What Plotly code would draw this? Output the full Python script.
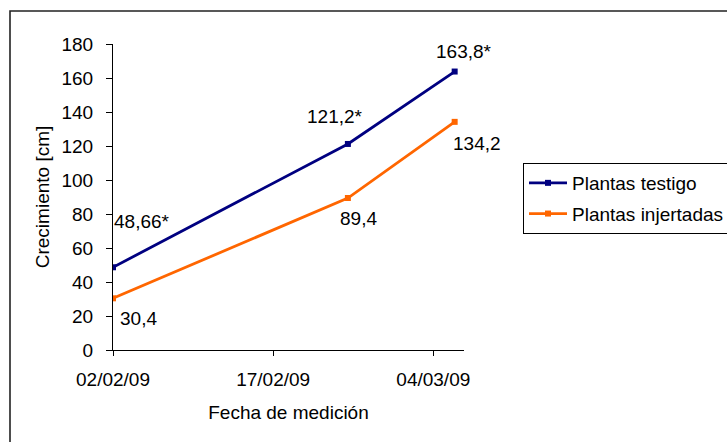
import plotly.graph_objects as go

# Measurement dates and plant growth (cm)
fechas = ["2009-02-02", "2009-02-24", "2009-03-06"]
testigo = [48.66, 121.2, 163.8]
injertadas = [30.4, 89.4, 134.2]
# Significance marks appended to each value label
marca_testigo = ["*", "*", "*"]
marca_injertadas = ["", "", ""]

series = ["Plantas testigo", "Plantas injertadas"]
colores = ["#000080", "#FF6600"]

FONT = "Liberation Sans, Arial, sans-serif"
FS = 19
W, H = 727, 442
L, R, T, B = 113, 263, 44, 92  # plot area margins in px
pw, ph = W - L - R, H - T - B

fig = go.Figure()
for i, (nombre, vals) in enumerate(zip(series, [testigo, injertadas])):
    fig.add_trace(go.Scatter(
        x=fechas, y=vals, name=nombre, mode="lines+markers",
        legendgroup=nombre,
        line=dict(color=colores[i], width=2.8),
        marker=dict(symbol="square", size=6, color=colores[i]),
    ))


def etiqueta(v, m):
    return f"{v:g}".replace(".", ",") + m


# Value labels: (dx, dy) offsets in px per point
off_testigo = [(29, 46), (-13, 27), (9, 20)]
off_injertadas = [(25, -20), (11, -20), (22, -22)]
for vals, marcas, offs in [(testigo, marca_testigo, off_testigo),
                           (injertadas, marca_injertadas, off_injertadas)]:
    for x, v, m, (dx, dy) in zip(fechas, vals, marcas, offs):
        fig.add_annotation(x=x, y=v, text=etiqueta(v, m), showarrow=False,
                           xshift=dx, yshift=dy,
                           font=dict(family=FONT, size=FS, color="black"))

# Outer chart border (left and top edges visible, rest runs off the page)
fig.add_shape(type="rect", xref="paper", yref="paper",
              x0=(10 - L) / pw, x1=(740 - L) / pw,
              y0=(H - B - 455) / ph, y1=(H - B - 11) / ph,
              line=dict(color="#222222", width=1.6), fillcolor="rgba(0,0,0,0)",
              layer="below")

fig.update_layout(
    width=W, height=H,
    margin=dict(l=L, r=R, t=T, b=B, autoexpand=False),
    paper_bgcolor="white", plot_bgcolor="white",
    font=dict(family=FONT, size=FS, color="black"),
    showlegend=True,
    legend=dict(
        xref="container", yref="container",
        x=523 / W, y=1 - 163 / H, xanchor="left", yanchor="top",
        bordercolor="black", borderwidth=1, bgcolor="white",
        font=dict(family=FONT, size=FS, color="black"),
        tracegroupgap=3, itemwidth=38,
    ),
    xaxis=dict(
        type="date",
        range=["2009-02-02", "2009-03-06 21:00"],
        tick0="2009-02-02", dtick=15 * 86400000, tickformat="%d/%m/%y",
        showline=True, linecolor="black", linewidth=1,
        ticks="outside", ticklen=5, tickcolor="black",
        showgrid=False, zeroline=False,
        ticklabelstandoff=7,
        title=dict(text="Fecha de medición", standoff=16,
                   font=dict(family=FONT, size=FS)),
    ),
    yaxis=dict(
        range=[0, 180], dtick=20,
        showline=True, linecolor="black", linewidth=1,
        ticks="outside", ticklen=6, tickcolor="black",
        showgrid=False, zeroline=False,
        ticklabelstandoff=9,
        title=dict(text="Crecimiento [cm]", standoff=6,
                   font=dict(family=FONT, size=FS)),
    ),
)

fig.write_html("out.html")
